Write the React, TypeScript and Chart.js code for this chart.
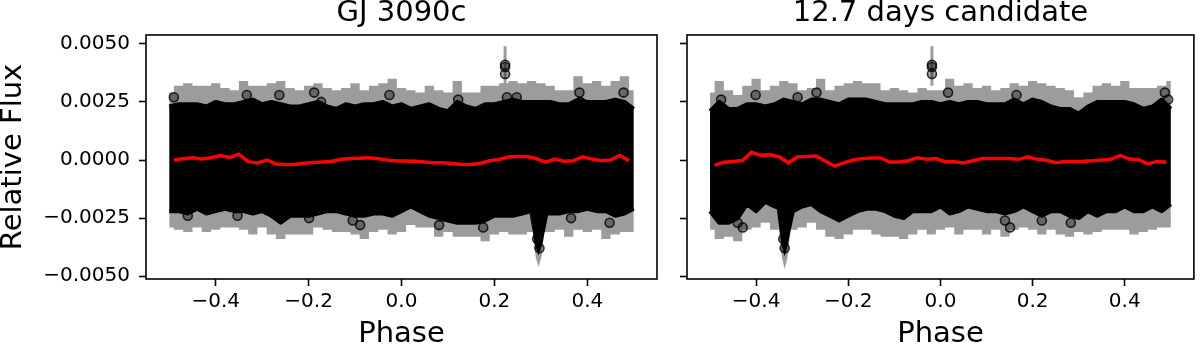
import React, { useEffect, useRef } from "react";
import { Chart, registerables } from "chart.js";

Chart.register(...registerables);
Chart.defaults.font.family = "'DejaVu Sans', sans-serif";
Chart.defaults.color = "#000";

// ---------- axes ----------
const X_MIN = -0.55;
const X_MAX = 0.55;
const Y_MIN = -0.00512;
const Y_MAX = 0.00538;
const X_TICKS = [-0.4, -0.2, 0.0, 0.2, 0.4];
const Y_TICKS = [-0.005, -0.0025, 0.0, 0.0025, 0.005];

// ---------- phase grids ----------
const ENV_PHASE = [
  -0.5, -0.48, -0.46, -0.44, -0.42, -0.4, -0.38, -0.36, -0.34, -0.32, -0.3, -0.28, -0.26,
  -0.24, -0.22, -0.2, -0.18, -0.16, -0.14, -0.12, -0.1, -0.08, -0.06, -0.04, -0.02, 0.0,
  0.02, 0.04, 0.06, 0.08, 0.1, 0.12, 0.14, 0.16, 0.18, 0.2, 0.22, 0.24, 0.26, 0.28, 0.3,
  0.32, 0.34, 0.36, 0.38, 0.4, 0.42, 0.44, 0.46, 0.48, 0.5,
];
const BIN_PHASE = [
  -0.49, -0.47, -0.45, -0.43, -0.41, -0.39, -0.37, -0.35, -0.33, -0.31, -0.29, -0.27, -0.25,
  -0.23, -0.21, -0.19, -0.17, -0.15, -0.13, -0.11, -0.09, -0.07, -0.05, -0.03, -0.01, 0.01,
  0.03, 0.05, 0.07, 0.09, 0.11, 0.13, 0.15, 0.17, 0.19, 0.21, 0.23, 0.25, 0.27, 0.29, 0.31,
  0.33, 0.35, 0.37, 0.39, 0.41, 0.43, 0.45, 0.47, 0.49,
];

// ---------- GJ 3090c panel ----------
const errTopL = [
  0.0029, 0.0032, 0.0033, 0.0032, 0.0032, 0.0033, 0.0031, 0.003, 0.0034, 0.0032, 0.0032, 0.0033,
  0.0034, 0.0031, 0.003, 0.0032, 0.0033, 0.0031, 0.003, 0.0031, 0.0033, 0.003, 0.0032, 0.0033,
  0.0035, 0.0031, 0.003, 0.0029, 0.0032, 0.003, 0.0029, 0.0034, 0.0029, 0.0029, 0.0032, 0.0032,
  0.0033, 0.0034, 0.0033, 0.0034, 0.0033, 0.0032, 0.003, 0.003, 0.0036, 0.0033, 0.0034, 0.0032,
  0.0034, 0.0036, 0.003,
];
const coreTopL = [
  0.0023, 0.0024, 0.0024, 0.0024, 0.0023, 0.0025, 0.0024, 0.0024, 0.0025, 0.0026, 0.0024, 0.0025,
  0.0024, 0.0023, 0.0023, 0.0024, 0.0025, 0.0023, 0.0022, 0.0024, 0.0023, 0.0024, 0.0024, 0.0025,
  0.0023, 0.0024, 0.0022, 0.0023, 0.0024, 0.0022, 0.0021, 0.0025, 0.0023, 0.0022, 0.0024, 0.0024,
  0.0025, 0.0026, 0.0025, 0.0025, 0.0025, 0.0025, 0.0024, 0.0024, 0.0026, 0.0025, 0.0025, 0.0025,
  0.0026, 0.0025, 0.0022,
];
const coreBotL = [
  -0.0022, -0.0022, -0.0023, -0.0021, -0.0023, -0.0022, -0.0021, -0.0022, -0.0022, -0.0023,
  -0.0022, -0.0024, -0.0027, -0.0024, -0.0024, -0.0024, -0.0023, -0.0022, -0.0022, -0.0023,
  -0.0024, -0.0024, -0.0023, -0.0023, -0.0024, -0.0022, -0.002, -0.0022, -0.0024, -0.0025,
  -0.0026, -0.0027, -0.0027, -0.0027, -0.0026, -0.0024, -0.0024, -0.0024, -0.0023, -0.0022,
  -0.0023, -0.0023, -0.0023, -0.0022, -0.0022, -0.0021, -0.0022, -0.0022, -0.0024, -0.0023,
  -0.0021,
];
const errBotL = [
  -0.0029, -0.003, -0.0031, -0.0029, -0.0031, -0.003, -0.0029, -0.0029, -0.003, -0.0032,
  -0.0029, -0.0032, -0.0034, -0.0032, -0.0032, -0.0032, -0.0029, -0.003, -0.0031, -0.0031,
  -0.0032, -0.0034, -0.0031, -0.003, -0.0032, -0.0031, -0.0028, -0.0029, -0.0029, -0.0033,
  -0.0031, -0.0033, -0.0033, -0.0033, -0.0035, -0.0032, -0.0031, -0.0032, -0.0032, -0.0031,
  -0.0031, -0.0031, -0.003, -0.0033, -0.003, -0.0031, -0.003, -0.0034, -0.0032, -0.0031,
  -0.0031,
];
const binnedL = [
  0.0, 0.00005, 0.0001, 0.00004, 0.0001, 0.00019, 0.00011, 0.00025, -0.00007, -0.00013, 0.0,
  -0.00017, -0.00019, -0.00019, -0.00014, -0.00011, -0.00009, -0.00005, 0.00003, 0.00006,
  0.00008, 0.0001, 0.00005, 0.0, -0.00004, -0.00004, -0.00005, -0.00009, -0.00012, -0.00012,
  -0.00015, -0.00019, -0.00019, -0.00014, -0.00003, 0.00002, 0.00013, 0.00015, 0.00015, 0.00006,
  -0.00009, 0.00004, -0.00005, -0.00003, 0.00014, 0.00004, -0.00003, 0.0, 0.0002, -0.00003,
];
const outPhaseL = [
  -0.49, -0.333, -0.263, -0.188, -0.173, -0.026, 0.122, 0.227, 0.248, 0.383, 0.385, 0.478,
  -0.46, -0.353, -0.199, -0.105, -0.089, 0.081, 0.176, 0.365, 0.448, 0.292, 0.297,
];
const outFluxL = [
  0.0027, 0.0028, 0.0028, 0.0029, 0.0025, 0.0028, 0.0026, 0.0027, 0.0027, 0.0029, 0.0025, 0.0029,
  -0.0024, -0.0024, -0.0025, -0.0026, -0.0028, -0.0028, -0.0029, -0.0025, -0.0027, -0.0034,
  -0.0038,
];
const spikePhaseL = 0.223;
const spikeFluxL = [0.0041, 0.004, 0.0037];
const spikeErrL = [0.0032, 0.0049];
const dipPhaseL = [0.279, 0.286, 0.29, 0.295, 0.3, 0.305, 0.313];
const dipFluxL = [-0.0023, -0.0031, -0.0036, -0.0039, -0.0036, -0.0031, -0.0023];
const dipErrPhaseL = [0.283, 0.289, 0.295, 0.301, 0.307];
const dipErrFluxL = [-0.0032, -0.0042, -0.0046, -0.0042, -0.0032];

// ---------- 12.7 days candidate panel ----------
const errTopR = [
  0.0029, 0.0034, 0.003, 0.0028, 0.0032, 0.0035, 0.003, 0.0032, 0.0034, 0.0033, 0.003, 0.0031,
  0.0035, 0.003, 0.0032, 0.0033, 0.0034, 0.0033, 0.0033, 0.003, 0.0031, 0.003, 0.0029, 0.0031,
  0.003, 0.003, 0.0035, 0.0032, 0.0033, 0.0031, 0.0032, 0.003, 0.0031, 0.0033, 0.0032, 0.0034,
  0.0033, 0.0032, 0.0031, 0.003, 0.0027, 0.0029, 0.0032, 0.0033, 0.0032, 0.0034, 0.0031, 0.0031,
  0.0031, 0.0032, 0.0034,
];
const coreTopR = [
  0.0021, 0.0025, 0.0022, 0.0022, 0.0024, 0.0024, 0.0023, 0.0024, 0.0026, 0.0025, 0.0024, 0.0026,
  0.0026, 0.0025, 0.0024, 0.0026, 0.0026, 0.0026, 0.0025, 0.0024, 0.0024, 0.0024, 0.0024, 0.0025,
  0.0025, 0.0024, 0.0025, 0.0024, 0.0025, 0.0025, 0.0024, 0.0024, 0.0024, 0.0026, 0.0024, 0.0026,
  0.0025, 0.0023, 0.0022, 0.0022, 0.002, 0.0023, 0.0025, 0.0025, 0.0025, 0.0025, 0.0024, 0.0022,
  0.0023, 0.0026, 0.0022,
];
const coreBotR = [
  -0.0022, -0.0027, -0.0027, -0.0025, -0.0019, -0.0022, -0.0018, -0.002, -0.0021, -0.0022, -0.002,
  -0.0019, -0.0022, -0.0024, -0.0026, -0.0024, -0.0022, -0.0021, -0.0021, -0.0022, -0.0024,
  -0.0025, -0.0022, -0.0022, -0.0022, -0.002, -0.0023, -0.0022, -0.002, -0.0021, -0.0022, -0.0022,
  -0.0023, -0.0022, -0.002, -0.0022, -0.0024, -0.0022, -0.0022, -0.0024, -0.0025, -0.0022,
  -0.0024, -0.0022, -0.0022, -0.002, -0.0022, -0.0022, -0.002, -0.0022, -0.0019,
];
const errBotR = [
  -0.003, -0.0034, -0.0033, -0.0035, -0.003, -0.0029, -0.0027, -0.003, -0.0031, -0.003, -0.0029,
  -0.0027, -0.003, -0.0033, -0.0034, -0.0032, -0.003, -0.003, -0.0032, -0.0033, -0.0033, -0.0034,
  -0.0032, -0.003, -0.0032, -0.003, -0.0029, -0.0032, -0.003, -0.003, -0.0032, -0.003, -0.0033,
  -0.003, -0.0029, -0.003, -0.0032, -0.003, -0.0032, -0.0033, -0.0031, -0.0032, -0.0031, -0.003,
  -0.003, -0.003, -0.0032, -0.0031, -0.003, -0.0029, -0.0029,
];
const binnedR = [
  -0.00022, -0.0001, -0.00006, -0.00002, 0.00033, 0.0002, 0.00023, 0.00014, -0.00012, 0.00014,
  0.00015, 0.00017, -0.00004, -0.00026, -0.00012, 0.0, 0.00006, 0.00009, 0.00009, -0.00009,
  -0.00009, -0.00003, 0.0001, 0.00003, 0.00006, -0.00007, -0.00008, -0.00013, -0.00003, 0.00006,
  0.00007, 0.00007, 0.00007, 0.00003, 0.00014, 0.00003, -0.00001, -0.00012, -0.00006, -0.00006,
  -0.00005, -0.00003, 0.0, 0.00003, 0.0002, 0.00004, 0.00001, -0.00017, -0.00006, -0.0001,
];
const outPhaseR = [
  -0.476, -0.401, -0.269, -0.31, 0.0165, 0.165, 0.487, 0.494, 0.14, 0.151, 0.283, 0.22, -0.429,
  -0.44, -0.338, -0.341,
];
const outFluxR = [
  0.0026, 0.0028, 0.0029, 0.0027, 0.0029, 0.0028, 0.0029, 0.0026, -0.0026, -0.0029, -0.0027,
  -0.0026, -0.0029, -0.0027, -0.0038, -0.0034,
];
const spikePhaseR = -0.0185;
const spikeFluxR = [0.0041, 0.004, 0.0037];
const spikeErrR = [0.0032, 0.0049];
const dipPhaseR = [-0.352, -0.346, -0.342, -0.338, -0.334, -0.328, -0.318];
const dipFluxR = [-0.0021, -0.003, -0.0036, -0.0039, -0.0036, -0.003, -0.0021];
const dipErrPhaseR = [-0.35, -0.344, -0.338, -0.332, -0.326];
const dipErrFluxR = [-0.0031, -0.0042, -0.0047, -0.0042, -0.0031];

// ---------- helpers ----------
const pts = (xs: number[], ys: number[]) => xs.map((x, i) => ({ x, y: ys[i] }));
const minus = (s: string) => s.replace("-", "\u2212");

const GREY = "#9c9c9c";
const TICK_W = 1.6;

const framePlugin = {
  id: "frameBox",
  afterDatasetsDraw(chart: any) {
    const { ctx, chartArea } = chart;
    ctx.save();
    ctx.strokeStyle = "#000";
    ctx.lineWidth = TICK_W;
    ctx.strokeRect(
      chartArea.left,
      chartArea.top,
      chartArea.right - chartArea.left,
      chartArea.bottom - chartArea.top
    );
    ctx.restore();
  },
};

type PanelData = {
  title: string;
  showY: boolean;
  errTop: number[];
  coreTop: number[];
  coreBot: number[];
  errBot: number[];
  binned: number[];
  outPhase: number[];
  outFlux: number[];
  spikePhase: number;
  spikeFlux: number[];
  spikeErr: number[];
  dipPhase: number[];
  dipFlux: number[];
  dipErrPhase: number[];
  dipErrFlux: number[];
  yWidth: number;
  padRight: number;
};

function makeConfig(p: PanelData): any {
  const hidden = { borderColor: "transparent", borderWidth: 0, pointRadius: 0 };
  // the black core is made of circles, so its outline carries the marker's radius
  const coreEdge = {
    borderColor: "#000",
    borderWidth: 4,
    pointRadius: 0,
    borderJoinStyle: "round",
    borderCapStyle: "butt",
  };
  const circle = {
    showLine: false,
    pointRadius: 4.5,
    pointBackgroundColor: "rgba(0,0,0,0.35)",
    pointBorderColor: "rgba(0,0,0,0.8)",
    pointBorderWidth: 1.6,
  };
  const datasets: any[] = [
    {
      label: "binned",
      data: pts(BIN_PHASE, p.binned),
      borderColor: "#ff0000",
      borderWidth: 3.5,
      pointRadius: 0,
      fill: false,
      order: 0,
    },
    { label: "outliers", data: pts(p.outPhase, p.outFlux), ...circle, order: 1 },
    {
      label: "spike",
      data: p.spikeFlux.map((y) => ({ x: p.spikePhase, y })),
      ...circle,
      order: 1,
    },
    {
      label: "dip",
      data: pts(p.dipPhase, p.dipFlux),
      borderColor: "#000",
      borderWidth: 3,
      pointRadius: 0,
      fill: { value: -0.0021 },
      backgroundColor: "#000",
      order: 2,
    },
    { label: "coreBot", data: pts(ENV_PHASE, p.coreBot), ...coreEdge, fill: false, order: 3 },
    {
      label: "coreTop",
      data: pts(ENV_PHASE, p.coreTop),
      ...coreEdge,
      fill: { target: 4 },
      backgroundColor: "#000",
      order: 3,
    },
    {
      label: "spikeErr",
      data: p.spikeErr.map((y) => ({ x: p.spikePhase, y })),
      borderColor: GREY,
      borderWidth: 3,
      pointRadius: 0,
      fill: false,
      order: 4,
    },
    {
      label: "dipErr",
      data: pts(p.dipErrPhase, p.dipErrFlux),
      ...hidden,
      fill: { value: -0.0029 },
      backgroundColor: GREY,
      order: 5,
    },
    {
      label: "errBot",
      data: pts(ENV_PHASE, p.errBot),
      ...hidden,
      stepped: "middle",
      fill: false,
      order: 6,
    },
    {
      label: "errTop",
      data: pts(ENV_PHASE, p.errTop),
      ...hidden,
      stepped: "middle",
      fill: { target: 8 },
      backgroundColor: GREY,
      order: 6,
    },
  ];

  return {
    type: "line",
    data: { datasets },
    plugins: [framePlugin],
    options: {
      animation: false,
      responsive: false,
      events: [],
      layout: { padding: { top: 0, left: 0, bottom: 0, right: p.padRight } },
      plugins: {
        legend: { display: false },
        tooltip: { enabled: false },
        title: {
          display: true,
          text: p.title,
          fullSize: false,
          color: "#000",
          font: { size: 29, weight: "normal", lineHeight: 0.92 },
          padding: { top: 0, bottom: 8.3 },
        },
      },
      scales: {
        x: {
          type: "linear",
          min: X_MIN,
          max: X_MAX,
          afterBuildTicks: (s: any) => {
            s.ticks = X_TICKS.map((v) => ({ value: v }));
          },
          afterFit: (s: any) => {
            s.height = 67;
          },
          grid: {
            drawOnChartArea: false,
            drawTicks: true,
            tickLength: 7,
            tickWidth: TICK_W,
            tickColor: "#000",
          },
          border: { display: false },
          ticks: {
            autoSkip: false,
            maxRotation: 0,
            padding: 4,
            color: "#000",
            font: { size: 20 },
            callback: (v: any) => minus(Number(v).toFixed(1)),
          },
          title: {
            display: true,
            text: "Phase",
            color: "#000",
            font: { size: 29, lineHeight: 0.92 },
            padding: { top: 0, bottom: -2.3 },
          },
        },
        y: {
          type: "linear",
          min: Y_MIN,
          max: Y_MAX,
          afterBuildTicks: (s: any) => {
            s.ticks = Y_TICKS.map((v) => ({ value: v }));
          },
          afterFit: (s: any) => {
            s.width = p.yWidth;
          },
          grid: {
            drawOnChartArea: false,
            drawTicks: true,
            tickLength: 7,
            tickWidth: TICK_W,
            tickColor: "#000",
          },
          border: { display: false },
          ticks: {
            display: p.showY,
            autoSkip: false,
            padding: 9,
            color: "#000",
            font: { size: 20 },
            callback: (v: any) => minus(Number(v).toFixed(4)),
          },
          title: {
            display: p.showY,
            text: "Relative Flux",
            color: "#000",
            font: { size: 29, lineHeight: 0.92 },
            padding: { top: 0, bottom: 0 },
          },
        },
      },
    },
  };
}

const LEFT: PanelData = {
  title: "GJ 3090c",
  showY: true,
  errTop: errTopL,
  coreTop: coreTopL,
  coreBot: coreBotL,
  errBot: errBotL,
  binned: binnedL,
  outPhase: outPhaseL,
  outFlux: outFluxL,
  spikePhase: spikePhaseL,
  spikeFlux: spikeFluxL,
  spikeErr: spikeErrL,
  dipPhase: dipPhaseL,
  dipFlux: dipFluxL,
  dipErrPhase: dipErrPhaseL,
  dipErrFlux: dipErrFluxL,
  yWidth: 146,
  padRight: 15,
};

const RIGHT: PanelData = {
  title: "12.7 days candidate",
  showY: false,
  errTop: errTopR,
  coreTop: coreTopR,
  coreBot: coreBotR,
  errBot: errBotR,
  binned: binnedR,
  outPhase: outPhaseR,
  outFlux: outFluxR,
  spikePhase: spikePhaseR,
  spikeFlux: spikeFluxR,
  spikeErr: spikeErrR,
  dipPhase: dipPhaseR,
  dipFlux: dipFluxR,
  dipErrPhase: dipErrPhaseR,
  dipErrFlux: dipErrFluxR,
  yWidth: 15,
  padRight: 1,
};

export default function App() {
  const leftRef = useRef<HTMLCanvasElement | null>(null);
  const rightRef = useRef<HTMLCanvasElement | null>(null);

  useEffect(() => {
    const charts: Chart[] = [];
    if (leftRef.current) charts.push(new Chart(leftRef.current, makeConfig(LEFT)));
    if (rightRef.current) charts.push(new Chart(rightRef.current, makeConfig(RIGHT)));
    return () => charts.forEach((c) => c.destroy());
  }, []);

  return (
    <div
      style={{
        position: "fixed",
        left: 0,
        top: 0,
        width: 1200,
        height: 346,
        background: "#fff",
      }}
    >
      <canvas
        ref={leftRef}
        width={672}
        height={346}
        style={{ position: "absolute", left: 0, top: 0, width: 672, height: 346 }}
      />
      <canvas
        ref={rightRef}
        width={528}
        height={346}
        style={{ position: "absolute", left: 672, top: 0, width: 528, height: 346 }}
      />
    </div>
  );
}
